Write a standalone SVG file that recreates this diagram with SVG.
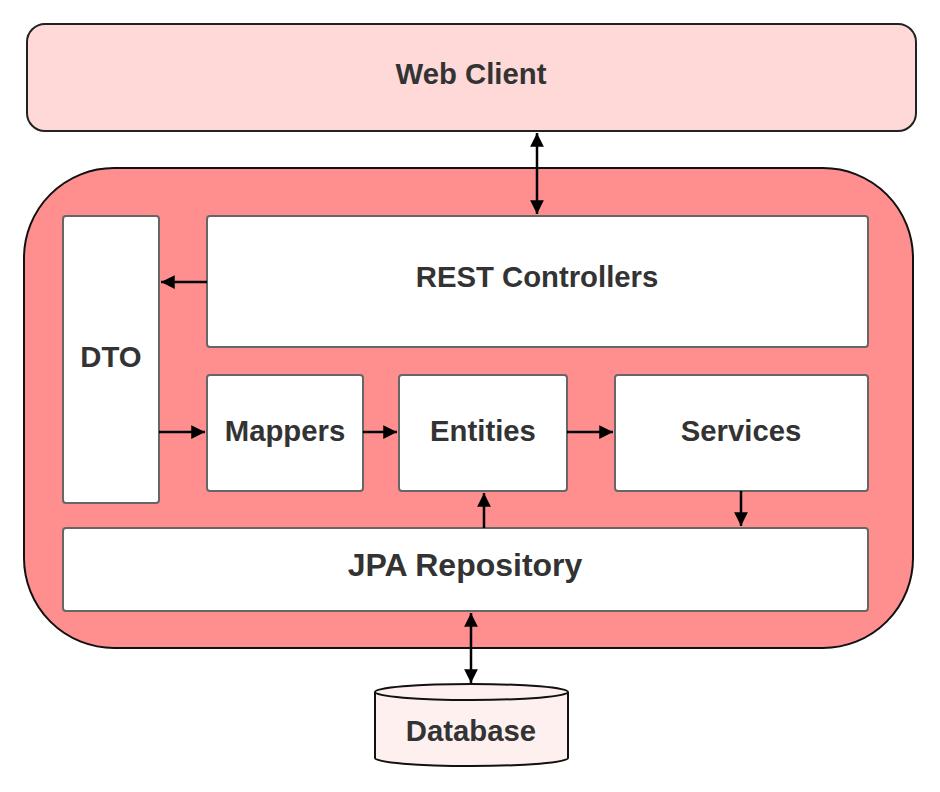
<svg xmlns="http://www.w3.org/2000/svg" width="940" height="792" viewBox="0 0 940 792">
<style>
.box{fill:#ffffff;stroke:#666666;stroke-width:2}
.lbl{font-family:"Liberation Sans",Arial,sans-serif;font-weight:bold;font-size:29.3px;fill:#333333;text-anchor:middle;dominant-baseline:central}
.big{font-size:32px}
.con{stroke:#000000;stroke-width:2.5;fill:none}
</style>
<defs>
<marker id="ah" viewBox="0 0 10 10" refX="10" refY="5" markerWidth="5.5" markerHeight="5.5" orient="auto-start-reverse" markerUnits="strokeWidth">
<path d="M0,0 L10,5 L0,10 z" fill="#000000"/>
</marker>
</defs>
<rect width="940" height="792" fill="#ffffff"/>
<g id="web-client">
<rect x="27" y="24" width="889" height="107" rx="18" fill="#ffd8d8" stroke="#222222" stroke-width="2"/>
<text class="lbl" x="471" y="73">Web Client</text>
</g>
<g id="backend">
<rect x="24" y="168" width="889" height="480" rx="90" fill="#ff8f8f" stroke="#111111" stroke-width="2"/>
</g>
<g id="dto">
<rect class="box" x="63" y="216" width="96" height="287" rx="3"/>
<text class="lbl" x="111" y="356">DTO</text>
</g>
<g id="rest-controllers">
<rect class="box" x="207" y="216" width="661" height="131" rx="3"/>
<text class="lbl" x="537" y="276">REST Controllers</text>
</g>
<g id="mappers">
<rect class="box" x="207" y="375" width="156" height="116" rx="3"/>
<text class="lbl" x="285" y="430">Mappers</text>
</g>
<g id="entities">
<rect class="box" x="399" y="375" width="168" height="116" rx="3"/>
<text class="lbl" x="483" y="430">Entities</text>
</g>
<g id="services">
<rect class="box" x="615" y="375" width="253" height="116" rx="3"/>
<text class="lbl" x="741" y="430">Services</text>
</g>
<g id="jpa-repository">
<rect class="box" x="63" y="528" width="805" height="83" rx="3"/>
<text class="lbl big" x="465" y="565">JPA Repository</text>
</g>
<g id="database">
<path d="M375,692 L375,758 A96.5,8 0 0 0 568,758 L568,692" fill="#fff0f0" stroke="#111111" stroke-width="2"/>
<ellipse cx="471.5" cy="692" rx="96.5" ry="8" fill="#fff0f0" stroke="#111111" stroke-width="2"/>
<text class="lbl" x="471" y="730">Database</text>
</g>
<g id="connectors">
<line class="con" x1="537" y1="133" x2="537" y2="214" marker-start="url(#ah)" marker-end="url(#ah)"/>
<line class="con" x1="207" y1="282" x2="161" y2="282" marker-end="url(#ah)"/>
<line class="con" x1="159" y1="432" x2="205" y2="432" marker-end="url(#ah)"/>
<line class="con" x1="363" y1="432" x2="397" y2="432" marker-end="url(#ah)"/>
<line class="con" x1="567" y1="432" x2="613" y2="432" marker-end="url(#ah)"/>
<line class="con" x1="484" y1="528" x2="484" y2="493" marker-end="url(#ah)"/>
<line class="con" x1="741" y1="491" x2="741" y2="526" marker-end="url(#ah)"/>
<line class="con" x1="471" y1="613" x2="471" y2="683" marker-start="url(#ah)" marker-end="url(#ah)"/>
</g>
</svg>
